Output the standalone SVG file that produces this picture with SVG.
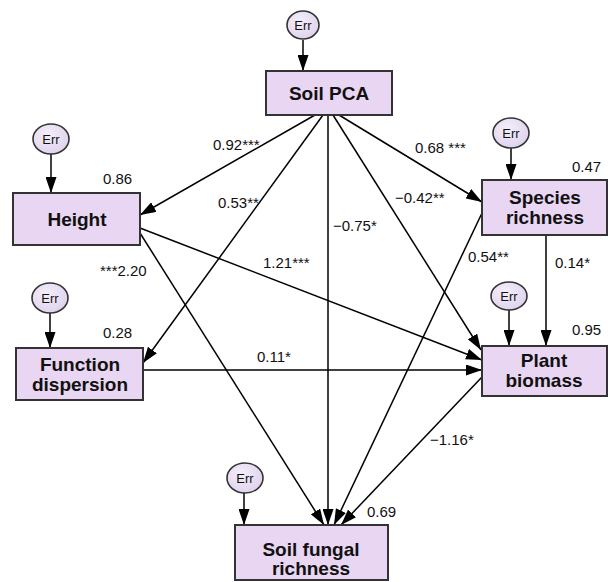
<svg xmlns="http://www.w3.org/2000/svg" width="608" height="582" viewBox="0 0 608 582">
  <defs>
    <marker id="arrow" viewBox="0 0 16 11" refX="16" refY="5.5" markerWidth="16" markerHeight="11" markerUnits="userSpaceOnUse" orient="auto">
      <path d="M0,0 L16,5.5 L0,11 Z" fill="#000"/>
    </marker>
    <radialGradient id="errFill" cx="0.4" cy="0.35" r="0.75">
      <stop offset="0" stop-color="#f4eefa"/>
      <stop offset="1" stop-color="#ddd0ec"/>
    </radialGradient>
    <style>
      .box { fill: #e9d6f2; stroke: #333; stroke-width: 2; }
      .err { fill: url(#errFill); stroke: #333; stroke-width: 1.6; }
      .node-label { font-family: "Liberation Sans", Arial, sans-serif; font-weight: bold; font-size: 19px; fill: #111; text-anchor: middle; }
      .err-label { font-family: "Liberation Sans", Arial, sans-serif; font-size: 13px; fill: #111; text-anchor: middle; }
      .coef { font-family: "Liberation Sans", Arial, sans-serif; font-size: 15px; fill: #111; }
      .edge { stroke: #000; stroke-width: 1.5; fill: none; marker-end: url(#arrow); }
    </style>
  </defs>
  <rect width="608" height="582" fill="#fff"/>

  <!-- connectors -->
  <g id="connectors">
    <!-- error terms into their variables -->
    <line class="edge" x1="303" y1="40" x2="303" y2="71"/>
    <line class="edge" x1="51" y1="154" x2="51" y2="193"/>
    <line class="edge" x1="511" y1="148" x2="511" y2="180"/>
    <line class="edge" x1="50" y1="313" x2="50" y2="348"/>
    <line class="edge" x1="509" y1="309" x2="509" y2="346"/>
    <line class="edge" x1="244" y1="493" x2="244" y2="525"/>
    <!-- structural paths -->
    <line class="edge" x1="315" y1="115" x2="140" y2="215"/>
    <line class="edge" x1="323" y1="115" x2="143" y2="363"/>
    <line class="edge" x1="328" y1="115" x2="328" y2="525"/>
    <line class="edge" x1="333" y1="115" x2="481" y2="350"/>
    <line class="edge" x1="339" y1="115" x2="482" y2="202"/>
    <line class="edge" x1="140" y1="228" x2="482" y2="360"/>
    <line class="edge" x1="140" y1="233" x2="324" y2="525"/>
    <line class="edge" x1="482" y1="213" x2="334" y2="525"/>
    <line class="edge" x1="546" y1="235" x2="546" y2="346"/>
    <line class="edge" x1="143" y1="370" x2="482" y2="370"/>
    <line class="edge" x1="482" y1="377" x2="341" y2="525"/>
  </g>

  <!-- path coefficients and R² values -->
  <g id="coefficients">
    <text class="coef" x="213" y="150">0.92***</text>
    <text class="coef" x="218" y="208">0.53**</text>
    <text class="coef" x="100" y="276">***2.20</text>
    <text class="coef" x="263" y="268">1.21***</text>
    <text class="coef" x="415" y="153">0.68 ***</text>
    <text class="coef" x="395" y="203">−0.42**</text>
    <text class="coef" x="333" y="231">−0.75*</text>
    <text class="coef" x="468" y="262">0.54**</text>
    <text class="coef" x="555" y="268">0.14*</text>
    <text class="coef" x="257" y="362">0.11*</text>
    <text class="coef" x="430" y="445">−1.16*</text>
    <text class="coef" x="103" y="184">0.86</text>
    <text class="coef" x="103" y="338">0.28</text>
    <text class="coef" x="572" y="172">0.47</text>
    <text class="coef" x="572" y="335">0.95</text>
    <text class="coef" x="367" y="517">0.69</text>
  </g>

  <!-- nodes -->
  <g id="soil-pca">
    <ellipse class="err" cx="303" cy="25" rx="16" ry="14"/>
    <text class="err-label" x="303" y="30">Err</text>
    <rect class="box" x="266" y="71" width="126" height="44"/>
    <text class="node-label" x="329" y="100">Soil PCA</text>
  </g>

  <g id="height">
    <ellipse class="err" cx="51" cy="139" rx="18" ry="15"/>
    <text class="err-label" x="51" y="144">Err</text>
    <rect class="box" x="13" y="193" width="127" height="52"/>
    <text class="node-label" x="77" y="226">Height</text>
  </g>

  <g id="species-richness">
    <ellipse class="err" cx="511" cy="133" rx="18" ry="15"/>
    <text class="err-label" x="511" y="138">Err</text>
    <rect class="box" x="482" y="180" width="125" height="55"/>
    <text class="node-label" x="545" y="204">Species</text>
    <text class="node-label" x="545" y="224">richness</text>
  </g>

  <g id="function-dispersion">
    <ellipse class="err" cx="50" cy="298" rx="18" ry="15"/>
    <text class="err-label" x="50" y="303">Err</text>
    <rect class="box" x="16" y="348" width="127" height="52"/>
    <text class="node-label" x="80" y="371">Function</text>
    <text class="node-label" x="80" y="391">dispersion</text>
  </g>

  <g id="plant-biomass">
    <ellipse class="err" cx="509" cy="296" rx="18" ry="14"/>
    <text class="err-label" x="509" y="301">Err</text>
    <rect class="box" x="482" y="346" width="125" height="50"/>
    <text class="node-label" x="544" y="367">Plant</text>
    <text class="node-label" x="544" y="387">biomass</text>
  </g>

  <g id="soil-fungal-richness">
    <ellipse class="err" cx="245" cy="478" rx="18" ry="15"/>
    <text class="err-label" x="245" y="483">Err</text>
    <rect class="box" x="235" y="525" width="153" height="55"/>
    <text class="node-label" x="311" y="556">Soil fungal</text>
    <text class="node-label" x="311" y="575">richness</text>
  </g>
</svg>
